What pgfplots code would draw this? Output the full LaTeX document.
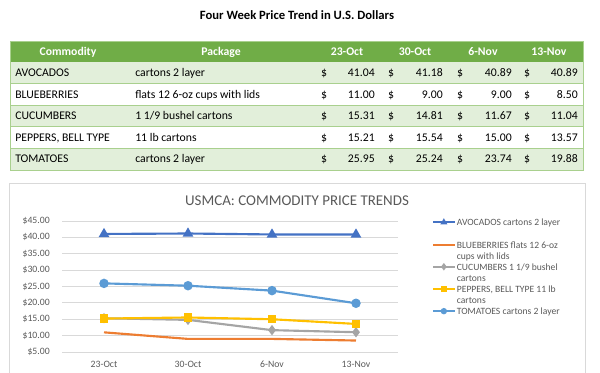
\documentclass[border=0pt]{standalone}
\usepackage{pgfplots}
\pgfplotsset{compat=1.18}
\usepackage{pgfplotstable}
\usepackage{fontspec}
\setmainfont{Carlito}
\definecolor{hdr}{HTML}{70AD47}
\definecolor{band}{HTML}{E2EFDA}
\definecolor{rulec}{HTML}{A9D08E}
\definecolor{txt}{HTML}{595959}
\definecolor{grd}{HTML}{D9D9D9}
\definecolor{cA}{HTML}{4472C4}
\definecolor{cB}{HTML}{ED7D31}
\definecolor{cC}{HTML}{A5A5A5}
\definecolor{cD}{HTML}{FFC000}
\definecolor{cE}{HTML}{5B9BD5}

\pgfplotstableread{
x avo blue cuc pep tom
0 41.04 11.00 15.31 15.21 25.95
1 41.18 9.00 14.81 15.54 25.24
2 40.89 9.00 11.67 15.00 23.74
3 40.89 8.50 11.04 13.57 19.88
}\prices

\newcommand\tfont{\fontsize{8.8}{10}\selectfont}
\newcommand\trow[7]{%
  \node[anchor=base west] at (15,#1+3.8) {#2};
  \node[anchor=base west] at (135,#1+3.8) {#3};
  \node[anchor=base] at (324,#1+3.8) {\$};
  \node[anchor=base east] at (375,#1+3.8) {#4};
  \node[anchor=base] at (391,#1+3.8) {\$};
  \node[anchor=base east] at (443,#1+3.8) {#5};
  \node[anchor=base] at (460,#1+3.8) {\$};
  \node[anchor=base east] at (512,#1+3.8) {#6};
  \node[anchor=base] at (527,#1+3.8) {\$};
  \node[anchor=base east] at (578,#1+3.8) {#7};
}

\begin{document}
\begin{tikzpicture}[x=0.75pt,y=-0.75pt]
\path[use as bounding box] (0,0) rectangle (600,373);
% page title
\node[font=\fontsize{9.5}{11}\selectfont\bfseries] at (297,15) {Four Week Price Trend in U.S. Dollars};
% table
\fill[hdr] (10,41) rectangle (583,62);
\fill[band] (10,62) rectangle (583,83.6);
\fill[band] (10,105.2) rectangle (583,126.8);
\fill[band] (10,148.4) rectangle (583,170);
\foreach \yy in {83.6,105.2,126.8,148.4} \draw[rulec, line width=0.5pt] (10,\yy) -- (583,\yy);
\draw[rulec, line width=0.5pt] (10,41) rectangle (583,170);
\begin{scope}[every node/.style={inner sep=0pt, font=\tfont}]
  \begin{scope}[every node/.append style={text=white, font=\tfont\bfseries, anchor=base}]
    \node at (68,55.3) {Commodity};
    \node at (221,55.3) {Package};
    \node at (347,55.3) {23-Oct};
    \node at (415,55.3) {30-Oct};
    \node at (483,55.3) {6-Nov};
    \node at (549,55.3) {13-Nov};
  \end{scope}
  \trow{72.8}{AVOCADOS}{cartons 2 layer}{41.04}{41.18}{40.89}{40.89}
  \trow{94.4}{BLUEBERRIES}{flats 12 6-oz cups with lids}{11.00}{9.00}{9.00}{8.50}
  \trow{116}{CUCUMBERS}{1 1/9 bushel cartons}{15.31}{14.81}{11.67}{11.04}
  \trow{137.6}{PEPPERS, BELL TYPE}{11 lb cartons}{15.21}{15.54}{15.00}{13.57}
  \trow{159.2}{TOMATOES}{cartons 2 layer}{25.95}{25.24}{23.74}{19.88}
\end{scope}
% chart frame
\draw[grd, line width=0.6pt] (9,390) -- (9,183) -- (585,183) -- (585,390);
\node[font=\fontsize{11.2}{13}\selectfont, text=txt] at (297,201) {USMCA: COMMODITY PRICE TRENDS};
\begin{axis}[
  at={(46.5pt,-264pt)}, anchor=south west,
  scale only axis, width=252pt, height=98.25pt,
  xmin=-0.5, xmax=3.5, ymin=5, ymax=45,
  xtick={0,1,2,3}, xticklabels={23-Oct,30-Oct,6-Nov,13-Nov},
  ytick={5,10,...,45},
  /pgf/number format/assume math mode=true,
  yticklabel={\$\pgfmathprintnumber[fixed,fixed zerofill,precision=2]{\tick}},
  axis line style={draw=none},
  ymajorgrids, grid style={grd, line width=0.6pt},
  major tick length=0pt,
  tick label style={font=\fontsize{7.3}{9}\selectfont, text=txt},
  yticklabel style={inner sep=0pt, anchor=east, xshift=-9pt},
  xticklabel style={inner sep=0pt, anchor=north, yshift=-6.5pt},
  clip=false,
  legend style={at={(1.101,1.034)}, anchor=north west, draw=none, fill=none,
    row sep=0pt, column sep=1pt, inner sep=0pt,
    font=\fontsize{7.2}{9.75}\selectfont, text=txt,
    cells={anchor=west}, nodes={inner sep=0pt}},
  legend image code/.code={\draw[mark repeat=2,mark phase=2,#1] plot coordinates {(0pt,0pt) (8pt,0pt) (16pt,0pt)};},
  legend image post style={mark size=1.6pt, line width=1.5pt},
]
\addplot[cA, line width=1.6pt, mark=triangle*, mark size=3pt, mark options={fill=cA}] table[x=x,y=avo]{\prices};
\addlegendentry{AVOCADOS cartons 2 layer\strut}
\addlegendimage{empty legend}\addlegendentry{\strut}
\addplot[cB, line width=1.6pt] table[x=x,y=blue]{\prices};
\addlegendentry{BLUEBERRIES flats 12 6-oz\strut}
\addlegendimage{empty legend}\addlegendentry{cups with lids\strut}
\addplot[cC, line width=1.6pt, mark=diamond*, mark size=2.6pt, mark options={fill=cC}] table[x=x,y=cuc]{\prices};
\addlegendentry{CUCUMBERS 1 1/9 bushel\strut}
\addlegendimage{empty legend}\addlegendentry{cartons\strut}
\addplot[cD, line width=1.6pt, mark=square*, mark size=2.3pt, mark options={fill=cD}] table[x=x,y=pep]{\prices};
\addlegendentry{PEPPERS, BELL TYPE 11 lb\strut}
\addlegendimage{empty legend}\addlegendentry{cartons\strut}
\addplot[cE, line width=1.6pt, mark=*, mark size=2.7pt, mark options={fill=cE}] table[x=x,y=tom]{\prices};
\addlegendentry{TOMATOES cartons 2 layer\strut}
\end{axis}
\end{tikzpicture}
\end{document}
